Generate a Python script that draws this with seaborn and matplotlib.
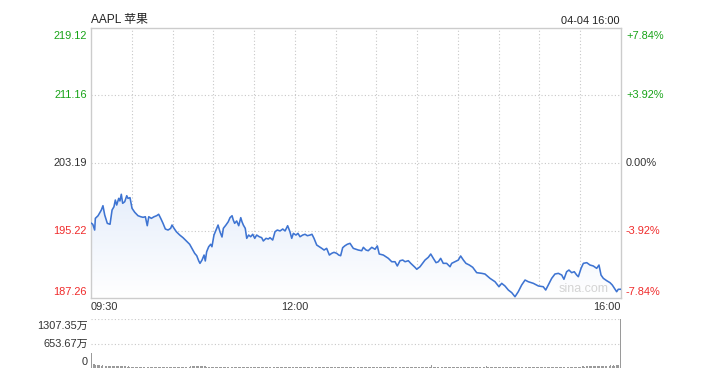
import numpy as np
import pandas as pd
import matplotlib
matplotlib.use("Agg")
import matplotlib.pyplot as plt
import seaborn as sns
from matplotlib.colors import LinearSegmentedColormap
from matplotlib.transforms import blended_transform_factory as btf

# ---------------- data ----------------
# minutes after 09:30
minutes = [0, 1.3, 2.7, 3.2, 5.2, 7.6, 8.8, 10.1, 12, 14, 15.5, 16.9, 17.9, 18.9, 20.4, 21.3, 22.3, 23.3, 24.8, 26.3,
           27.2, 28.7, 30.2, 32.2, 34.6, 36.6, 38.3, 40, 41.4, 42.5, 44.4, 46.4, 48.3, 49.8, 51.3, 53, 54.7, 56.7, 58.6, 59.6,
           61.1, 62.8, 65.3, 67.7, 70.1, 72.6, 74.3, 76.3, 77.8, 79.3, 80.2, 81.7, 83.2, 84.1, 85.1, 86.6, 88.1, 89, 90.5, 92,
           93.5, 94.9, 96.4, 97.4, 99.3, 101, 102.3, 103.8, 104.7, 105.7, 107.2, 108.7, 110.2, 111.1, 112.1, 113.5, 114.6, 116, 117.5, 119,
           120.5, 121.9, 123.8, 125.6, 126.8, 128.8, 130.5, 131.7, 133.7, 135.4, 137.1, 139.1, 141.1, 142.8, 144.7, 146.4, 147.7, 148.9, 150.8, 152.3,
           153.8, 155.8, 157.5, 159.2, 161.2, 162.6, 164.1, 166.1, 168, 169.8, 171.5, 173.4, 175.4, 177.1, 178.8, 180.8, 182.3, 183.7, 185.2, 186.9,
           188.6, 190.6, 193, 196.7, 199.2, 200.4, 202.4, 204, 206.6, 209, 210.7, 212.1, 215.1, 218.8, 221.3, 223.7, 225.4, 227.4, 229.4, 231.1,
           233.5, 235.3, 238.4, 239.7, 242.1, 245.8, 248.2, 250, 251.9, 253.9, 255.6, 257.3, 259.2, 261.7, 264.2, 265.4, 267.8, 270.3, 272, 274,
           275.9, 278.4, 280.9, 283.8, 287.5, 289.9, 293.6, 297.3, 300.2, 302.2, 304.6, 307.1, 309.6, 312, 314.4, 316.9, 319.4, 321.8, 325.5, 329.2,
           332.8, 334.6, 336.5, 339, 341.4, 343.9, 346.4, 348, 350, 351.7, 353.7, 355.6, 357.4, 358.6, 360.6, 362.3, 364.8, 367.2, 369.6, 372.1,
           373.8, 375.3, 377, 379.5, 381.9, 383.6, 385.6, 386.8, 388, 390]
prices = [196.11, 195.96, 195.28, 196.66, 196.97, 197.64, 198.15, 197.05, 196.07, 195.96,
          197.64, 198.03, 198.82, 198.23, 199.02, 198.71, 199.50, 198.43, 198.62, 199.33,
          199.02, 199.10, 197.84, 197.37, 196.97, 196.85, 196.78, 196.85, 195.79, 196.85,
          196.66, 196.85, 196.97, 197.14, 196.66, 196.07, 195.40, 195.28, 195.48, 195.87,
          195.48, 195.08, 194.69, 194.38, 193.99, 193.60, 193.12, 192.53, 192.25, 191.63,
          191.35, 191.74, 192.33, 191.63, 192.72, 193.31, 193.60, 193.31, 194.69, 195.28,
          195.87, 195.08, 194.46, 195.48, 195.87, 196.26, 196.74, 196.97, 196.46, 196.07,
          196.35, 195.79, 196.74, 196.26, 195.87, 195.48, 194.30, 194.69, 194.49, 194.78,
          194.30, 194.69, 194.49, 194.38, 193.99, 194.30, 194.22, 194.38, 194.10, 195.08,
          195.28, 195.17, 195.40, 195.17, 195.79, 195.08, 194.30, 194.89, 194.69, 194.89,
          194.49, 194.69, 194.78, 194.61, 194.69, 194.78, 194.30, 193.51, 193.31, 193.12,
          192.92, 193.12, 192.33, 192.53, 192.65, 192.53, 192.33, 192.25, 193.20, 193.43,
          193.60, 193.71, 193.12, 192.92, 192.84, 193.24, 192.92, 192.84, 193.24, 193.01,
          193.40, 192.45, 192.33, 191.94, 191.54, 191.54, 191.04, 191.66, 191.74, 191.54,
          191.66, 191.35, 190.88, 190.65, 190.95, 191.74, 192.06, 192.45, 191.94, 191.43,
          191.54, 191.94, 191.35, 191.35, 190.95, 191.35, 191.54, 191.74, 192.22, 191.74,
          191.35, 191.15, 190.88, 190.25, 190.17, 190.09, 189.58, 189.18, 188.59, 188.99,
          188.68, 188.20, 187.89, 187.41, 188.00, 188.79, 189.38, 189.18, 188.99, 188.68,
          188.59, 188.20, 188.79, 189.58, 190.09, 190.17, 189.97, 189.47, 190.36, 190.56,
          190.25, 190.36, 189.97, 189.77, 190.76, 191.35, 191.43, 191.15, 191.04, 190.76,
          191.15, 189.97, 189.58, 189.30, 189.07, 188.79, 188.29, 188.00, 188.29, 188.29]

# per-minute volume (万股), minute 0 .. 390
volumes = [410, 120, 95, 85, 75, 78, 70, 66, 68, 62,
           58, 60, 55, 56, 52, 54, 50, 51, 47, 48,
           45, 46, 43, 44, 41, 42, 40, 42, 38, 39,
           36, 38, 35, 36, 34, 35, 33, 34, 33, 32,
           31, 32, 30, 31, 29, 30, 28, 30, 29, 27,
           28, 27, 29, 27, 28, 26, 27, 29, 26, 28,
           27, 29, 28, 30, 31, 29, 32, 34, 33, 35,
           36, 38, 40, 42, 44, 46, 48, 50, 52, 54,
           51, 48, 46, 44, 42, 40, 38, 37, 36, 34,
           33, 32, 33, 31, 30, 29, 29, 28, 27, 26,
           26, 24, 25, 23, 24, 22, 25, 24, 23, 22,
           24, 22, 23, 25, 22, 22, 24, 23, 21, 22,
           22, 23, 22, 21, 22, 24, 22, 22, 20, 21,
           22, 21, 22, 20, 21, 22, 22, 21, 19, 20,
           21, 22, 20, 19, 21, 20, 22, 19, 20, 18,
           20, 19, 21, 18, 19, 20, 18, 19, 18, 19,
           18, 20, 19, 21, 22, 24, 26, 25, 23, 24,
           22, 23, 22, 24, 22, 21, 22, 20, 21, 19,
           20, 22, 21, 19, 22, 24, 22, 21, 20, 19,
           18, 20, 19, 18, 19, 18, 20, 19, 18, 18,
           19, 18, 18, 20, 19, 18, 18, 17, 19, 18,
           18, 20, 22, 22, 21, 22, 23, 22, 24, 22,
           23, 25, 24, 22, 26, 24, 23, 25, 22, 22,
           22, 21, 22, 23, 22, 24, 26, 25, 27, 26,
           24, 22, 22, 23, 21, 22, 22, 21, 22, 22,
           24, 90, 28, 24, 22, 22, 23, 22, 21, 22,
           22, 24, 23, 22, 22, 21, 22, 23, 22, 21,
           22, 22, 24, 23, 22, 22, 21, 23, 24, 25,
           26, 27, 26, 28, 29, 27, 30, 28, 30, 29,
           32, 55, 34, 30, 29, 30, 28, 30, 29, 31,
           30, 32, 30, 31, 33, 30, 32, 34, 35, 33,
           36, 38, 35, 34, 32, 30, 33, 31, 30, 32,
           30, 29, 30, 31, 28, 30, 29, 30, 28, 27,
           29, 28, 30, 27, 29, 30, 28, 30, 31, 29,
           30, 32, 30, 31, 29, 30, 33, 31, 34, 32,
           34, 33, 35, 34, 36, 34, 37, 38, 36, 38,
           40, 38, 42, 44, 40, 42, 45, 42, 46, 44,
           48, 46, 50, 52, 48, 50, 55, 58, 53, 56,
           60, 64, 58, 68, 62, 72, 66, 76, 70, 90,
           1307.35]
vol_minutes = list(range(len(volumes)))

price_ticks = [219.12, 211.16, 203.19, 195.22, 187.26]
pct_labels = ["+7.84%", "+3.92%", "0.00%", "-3.92%", "-7.84%"]
grid_prices = [211.16, 203.19, 195.22]
grid_minutes = [30, 60, 90, 120, 150, 180, 210, 240, 270, 300, 330, 360]
time_ticks = [0, 150, 390]
time_labels = ["09:30", "12:00", "16:00"]
vol_ticks = [1307.35, 653.67, 0]
vol_labels = ["1307.35万", "653.67万", "0"]
title = "AAPL 苹果"
stamp = "04-04 16:00"

# ---------------- style ----------------
sns.set_theme(style="white")
plt.rcParams["font.family"] = ["Liberation Sans", "Noto Sans CJK SC", "DejaVu Sans"]

GREEN = "#17a317"
RED = "#f02a2a"
DARK = "#333333"
LINE = "#3e74d2"
FRAME = "#cccccc"
GRID = "#c8c8c8"
FS = 7.9

fig = plt.figure(figsize=(7.07, 3.82), dpi=100)
W, H = 707, 382
ax = fig.add_axes([91 / W, 84 / H, 530 / W, 270 / H])
axv = fig.add_axes([91 / W, 14 / H, 530 / W, 49 / H])

ymin, ymax = price_ticks[-1], price_ticks[0]

# gradient area under line
poly = ax.fill_between(minutes, prices, ymin, facecolor="none", edgecolor="none")
cmap = LinearSegmentedColormap.from_list("g", ["#ffffff", "#e6eefb"])
grad = np.linspace(1, 0, 256).reshape(-1, 1)
im = ax.imshow(grad, extent=[0, 390, ymin, max(prices)], aspect="auto", cmap=cmap,
               origin="upper", zorder=1, interpolation="bilinear")
im.set_clip_path(poly.get_paths()[0], transform=ax.transData)

df = pd.DataFrame({"minute": minutes, "price": prices})
sns.lineplot(data=df, x="minute", y="price", ax=ax, color=LINE, linewidth=1.15,
             estimator=None, sort=False, zorder=3)

for gp in grid_prices:
    ax.axhline(gp, color=GRID, lw=0.8, ls=(0, (1, 2)), zorder=0.5)
for gm in grid_minutes:
    ax.axvline(gm, color=GRID, lw=0.8, ls=(0, (1, 2)), zorder=0.5)

ax.set_xlim(0, 390)
ax.set_ylim(ymin, ymax)
ax.set_xticks([]); ax.set_yticks([])
ax.set_xlabel(""); ax.set_ylabel("")
for s in ax.spines.values():
    s.set_visible(True)
    s.set_color(FRAME)
    s.set_linewidth(1.0)

tr = btf(ax.transAxes, ax.transData)
for i, (v, p) in enumerate(zip(price_ticks, pct_labels)):
    col = GREEN if i < 2 else (DARK if i == 2 else RED)
    if i == 0:
        va, dy = "top", -2
    elif i == len(price_ticks) - 1:
        va, dy = "bottom", 1
    else:
        va, dy = "center", 0
    ax.annotate(f"{v:.2f}", xy=(0, v), xycoords=tr, xytext=(-3, dy), textcoords="offset points",
                ha="right", va=va, color=col, fontsize=FS)
    ax.annotate(p, xy=(1, v), xycoords=tr, xytext=(3.6, dy), textcoords="offset points",
                ha="left", va=va, color=col, fontsize=FS)

trx = btf(ax.transData, ax.transAxes)
for t, lab in zip(time_ticks, time_labels):
    ha = "left" if t == time_ticks[0] else ("right" if t == time_ticks[-1] else "center")
    ax.annotate(lab, xy=(t, 0), xycoords=trx, xytext=(0, -6.5), textcoords="offset points",
                ha=ha, va="center", color=DARK, fontsize=FS)

ax.text(0.976, 0.012, "sina.com", transform=ax.transAxes, ha="right", va="bottom",
        color="#d4d4d4", fontsize=9)

fig.text(91 / W, 1 - 20 / H, title, ha="left", va="center", color="#222222", fontsize=8.6)
fig.text(620 / W, 1 - 21 / H, stamp, ha="right", va="center", color="#222222", fontsize=FS)

# ---------------- volume ----------------
vdf = pd.DataFrame({"minute": vol_minutes, "vol": volumes})
sns.barplot(data=vdf, x="minute", y="vol", ax=axv, native_scale=True, color="#9a9a9a",
            saturation=1, width=0.7, errorbar=None, linewidth=0)
axv.set_xlim(-0.6, 390.6)
axv.set_ylim(0, vol_ticks[0])
axv.set_xticks([]); axv.set_yticks([])
axv.set_xlabel(""); axv.set_ylabel("")
for s in axv.spines.values():
    s.set_visible(False)
for gv in vol_ticks[:2]:
    axv.axhline(gv, color=GRID, lw=0.8, ls=(0, (1, 2)), zorder=0)
trv = btf(axv.transAxes, axv.transData)
for i, (v, lab) in enumerate(zip(vol_ticks, vol_labels)):
    if i == 0:
        va, dy = "top", -1.5
    elif i == len(vol_ticks) - 1:
        va, dy = "bottom", 1
    else:
        va, dy = "center", 0
    axv.annotate(lab, xy=(0, v), xycoords=trv, xytext=(-2, dy), textcoords="offset points",
                 ha="right", va=va, color=DARK, fontsize=FS)

fig.savefig("out.png", dpi=100)
